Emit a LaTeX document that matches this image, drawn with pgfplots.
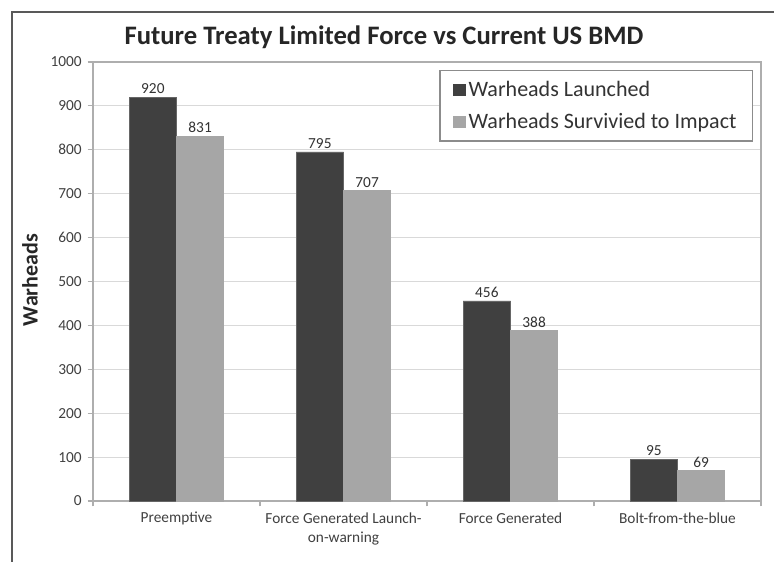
\documentclass[border=0pt]{standalone}
\usepackage{pgfplots}
\pgfplotsset{compat=1.18}
\usepackage{fontspec}
\setmainfont{Carlito}
\definecolor{darkbar}{HTML}{404040}
\definecolor{lightbar}{HTML}{A6A6A6}
\definecolor{ticktext}{HTML}{404040}
\definecolor{gridc}{HTML}{D9D9D9}
\begin{document}
\begin{tikzpicture}[x=0.75pt,y=0.75pt]
\useasboundingbox (0,0) rectangle (774,561);
\fill[white] (0,0) rectangle (774,561);
% outer frame
\draw[black!65, line width=1.1pt] (12,-5) -- (12,549) -- (790,549);
% title
\node[font=\fontsize{20}{22}\selectfont\bfseries, text=black!85] at (384,561-37) {Future Treaty Limited Force vs Current US BMD};
% y label
\node[rotate=90, font=\fontsize{16.5}{18}\selectfont\bfseries, text=black!85] at (30,561-280) {Warheads};
\begin{axis}[
  at={(69.75pt,45pt)}, anchor=south west,
  scale only axis, width=501pt, height=329.25pt,
  ymin=0, ymax=1000, ytick={0,100,...,1000},
  xmin=-0.5, xmax=3.5,
  ybar=0pt, bar width=0.283,
  /pgf/number format/assume math mode=true,
  /pgf/number format/1000 sep={},
  xtick={-0.5,0.5,1.5,2.5,3.5}, xticklabels={},
  extra x ticks={0,1,2,3},
  extra x tick labels={Preemptive,{Force Generated Launch-\\on-warning},Force Generated,Bolt-from-the-blue},
  extra x tick style={major tick length=0pt, grid=none,
     tick label style={align=center, yshift=-5pt, font=\fontsize{11.5}{14.5}\selectfont}},
  ymajorgrids, grid style={gridc, line width=0.8pt},
  axis line style={gridc!80!black, line width=0.8pt},
  tick style={gridc!80!black, line width=0.8pt},
  tick align=outside, major tick length=4pt,
  ytick pos=left, xtick pos=bottom,
  tick label style={font=\fontsize{11.5}{13}\selectfont, text=ticktext},
  yticklabel style={xshift=-1pt},
  nodes near coords,
  every node near coord/.append style={font=\fontsize{11.5}{13}\selectfont, text=black!80, yshift=-1pt},
  legend style={at={(0.988,0.982)}, anchor=north east, draw=black!45, line width=0.8pt,
     font=\fontsize{16.5}{18}\selectfont, text=black!80, inner xsep=10pt, inner ysep=6pt,
     row sep=7pt, cells={anchor=west}},
  legend image code/.code={\fill[#1,draw=none] (3pt,-4.6pt) rectangle (12.5pt,4.4pt);},
]
\addplot[fill=darkbar, draw=black!60, line width=0.4pt] coordinates {(0,920) (1,795) (2,456) (3,95)};
\addplot[fill=lightbar, draw=lightbar] coordinates {(0,831) (1,707) (2,388) (3,69)};
\legend{Warheads Launched, Warheads Survivied to Impact}
\end{axis}
\end{tikzpicture}
\end{document}
